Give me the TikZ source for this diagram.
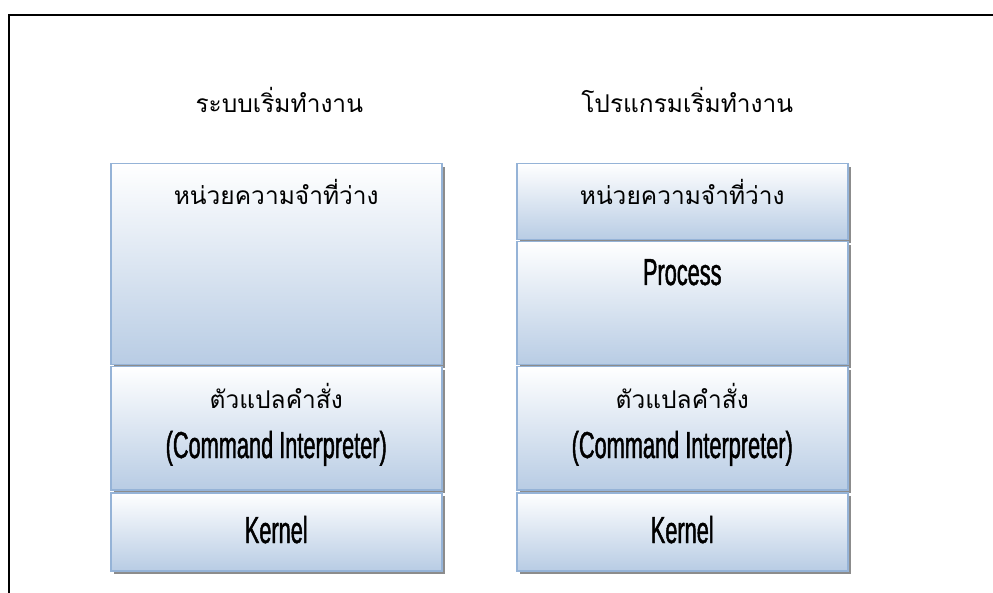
\documentclass[tikz,border=0pt]{standalone}
\usepackage{fontspec}
\newfontfamily\thaifont[Script=Thai]{Loma}
\newfontfamily\narrowfont[FakeStretch=0.58,FakeBold=1.2]{Liberation Sans}
\usetikzlibrary{shadows}
\definecolor{boxline}{HTML}{95B3D7}
\definecolor{boxfill}{HTML}{B8CCE4}
\definecolor{shadowgray}{HTML}{8C8C8C}
\begin{document}
\begin{tikzpicture}[x=1pt,y=-1pt,
  membox/.style={draw=boxline, line width=1.5pt, top color=white, bottom color=boxfill,
    minimum width=331pt, inner sep=0pt, anchor=north west,
    general shadow={fill=shadowgray, shadow xshift=3pt, shadow yshift=-3pt}},
  thaitext/.style={font=\thaifont\fontsize{24.5}{28}\selectfont, anchor=base, inner sep=0pt},
  title/.style={font=\thaifont\fontsize{24.5}{28}\selectfont, anchor=base, inner sep=0pt},
  latintext/.style={font=\narrowfont\fontsize{37.5}{40}\selectfont, anchor=base, inner sep=0pt}]
\useasboundingbox (0,0) rectangle (993,593);
% page frame
\draw[line width=2pt] (9,593) -- (9,15) -- (993,15);

% left stack: system start
\node[membox, minimum height=201pt] (A) at (110,163) {};
\node[membox, minimum height=123pt] (B) at (110,366) {};
\node[membox, minimum height=78pt]  (C) at (110,492) {};
% right stack: program start
\node[membox, minimum height=76pt]  (D) at (516,163) {};
\node[membox, minimum height=123pt] (E) at (516,241) {};
\node[membox, minimum height=123pt] (F) at (516,366) {};
\node[membox, minimum height=78pt]  (G) at (516,492) {};

% column headings
\node[title] (tL) at ([xshift=3pt,yshift=50pt]A.north) {ระบบเริ่มทำงาน};
\node[title] (tR) at ([xshift=5pt,yshift=50pt]D.north) {โปรแกรมเริ่มทำงาน};

% labels, left
\node[thaitext] (lA) at ([yshift=-42pt]A.north) {หน่วยความจำที่ว่าง};
\node[thaitext] (lB1) at ([yshift=-42pt]B.north) {ตัวแปลคำสั่ง};
\node[latintext] (lB2) at ([yshift=-92pt]B.north) {(Command Interpreter)};
\node[latintext] (lC) at ([yshift=-51pt]C.north) {Kernel};
% labels, right
\node[thaitext] (lD) at ([yshift=-42pt]D.north) {หน่วยความจำที่ว่าง};
\node[latintext] (lE) at ([yshift=-44pt]E.north) {Process};
\node[thaitext] (lF1) at ([yshift=-42pt]F.north) {ตัวแปลคำสั่ง};
\node[latintext] (lF2) at ([yshift=-92pt]F.north) {(Command Interpreter)};
\node[latintext] (lG) at ([yshift=-51pt]G.north) {Kernel};
\end{tikzpicture}
\end{document}
